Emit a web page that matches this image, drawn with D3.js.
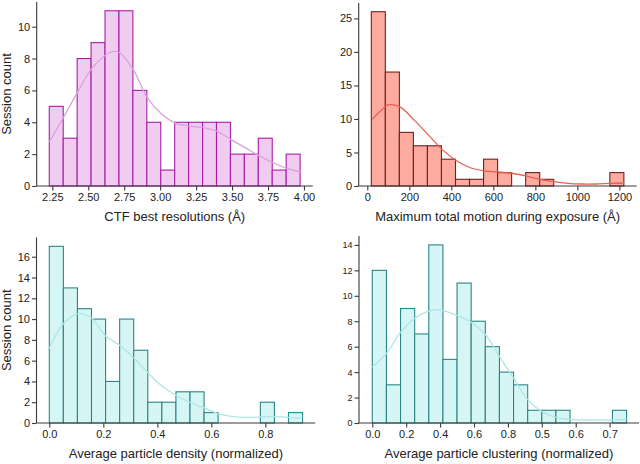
<!DOCTYPE html>
<html>
<head>
<meta charset="utf-8">
<script src="https://cdn.jsdelivr.net/npm/d3@7/dist/d3.min.js"></script>
<style>
  body { margin: 0; background: #fff; }
  svg { display: block; font-family: "Liberation Sans", Arial, Helvetica, sans-serif; }
</style>
</head>
<body>
<svg id="chart" width="640" height="464"></svg>
<script>
// ---------- DATA ----------
// Panel 1: CTF best resolutions
const ctfCounts = [5, 3, 8, 9, 11, 11, 6, 4, 1, 4, 4, 4, 4, 2, 2, 3, 1, 2];
const ctfBinStart = 2.229;
const ctfBinWidth = 0.0969;
const ctfKdeX = [2.229, 2.326, 2.424, 2.521, 2.618, 2.667, 2.716, 2.813, 2.910, 3.008, 3.105, 3.202, 3.300, 3.397, 3.494, 3.591, 3.689, 3.786, 3.883, 3.976];
const ctfKdeY = [2.76, 4.28, 5.86, 7.34, 8.21, 8.44, 8.38, 7.30, 5.56, 4.53, 3.95, 3.76, 3.66, 3.43, 2.91, 2.41, 1.89, 1.46, 1.10, 0.87];
const ctfXTicks = [2.25, 2.50, 2.75, 3.00, 3.25, 3.50, 3.75, 4.00];
const ctfXTickLabels = ["2.25", "2.50", "2.75", "3.00", "3.25", "3.50", "3.75", "4.00"];
const ctfYTicks = [0, 2, 4, 6, 8, 10];
const ctfXDomain = [2.1415, 4.0615];
const ctfYDomain = [0, 11.55];

// Panel 2: Maximum total motion
const motionCounts = [26, 17, 8, 6, 6, 4, 1, 1, 4, 2, 0, 2, 1, 0, 0, 0, 0, 2];
const motionBinStart = 19;
const motionBinWidth = 66.8;
const motionKdeX = [21, 88, 100, 155, 221, 288, 355, 421, 488, 555, 621, 688, 755, 821, 888, 955, 1021, 1088, 1155, 1223];
const motionKdeY = [9.9, 11.9, 12.1, 11.8, 9.9, 7.7, 5.5, 3.85, 2.76, 2.27, 2.1, 1.9, 1.5, 1.0, 0.64, 0.4, 0.3, 0.3, 0.4, 0.45];
const motionXTicks = [0, 200, 400, 600, 800, 1000, 1200];
const motionXTickLabels = ["0", "200", "400", "600", "800", "1000", "1200"];
const motionYTicks = [0, 5, 10, 15, 20, 25];
const motionXDomain = [-41, 1282];
const motionYDomain = [0, 27.3];

// Panel 3: Average particle density
const densityCounts = [17, 13, 11, 10, 4, 10, 7, 2, 2, 3, 3, 1, 0, 0, 0, 2, 0, 1];
const densityBinStart = 0;
const densityBinWidth = 0.0521;
const densityKdeX = [0.0, 0.0519, 0.1037, 0.1556, 0.2074, 0.2593, 0.3111, 0.3630, 0.4148, 0.4667, 0.5185, 0.5704, 0.6222, 0.6741, 0.7259, 0.7778, 0.8296, 0.8815, 0.937];
const densityKdeY = [7.2, 9.55, 10.5, 10.1, 8.4, 7.5, 6.3, 4.9, 3.6, 2.7, 2.0, 1.5, 0.93, 0.64, 0.54, 0.57, 0.64, 0.54, 0.45];
const densityXTicks = [0.0, 0.2, 0.4, 0.6, 0.8];
const densityXTickLabels = ["0.0", "0.2", "0.4", "0.6", "0.8"];
const densityYTicks = [0, 2, 4, 6, 8, 10, 12, 14, 16];
const densityXDomain = [-0.0474, 0.985];
const densityYDomain = [0, 17.85];

// Panel 4: Average particle clustering
const clusterCounts = [12, 3, 9, 7, 14, 5, 11, 8, 6, 4, 3, 1, 1, 1, 0, 0, 0, 1];
const clusterBinStart = 0;
const clusterBinWidth = 0.04167;
const clusterKdeX = [0.0, 0.0413, 0.0826, 0.1239, 0.1652, 0.1849, 0.2065, 0.2497, 0.2910, 0.3323, 0.3736, 0.4149, 0.4562, 0.4975, 0.5388, 0.5840, 0.6253, 0.6666, 0.7079, 0.75];
const clusterKdeY = [4.4, 5.45, 7.1, 8.2, 8.8, 8.9, 8.86, 8.47, 7.94, 7.0, 5.3, 3.6, 1.9, 0.95, 0.47, 0.29, 0.24, 0.24, 0.24, 0.29];
const clusterXTicks = [0.0, 0.1, 0.2, 0.3, 0.4, 0.5, 0.6, 0.7];
const clusterXTickLabels = ["0.0", "0.2", "0.4", "0.6", "0.8", "0.5", "0.6", "0.7"];
const clusterYTicks = [0, 2, 4, 6, 8, 10, 12, 14];
const clusterXDomain = [-0.0392, 0.7867];
const clusterYDomain = [0, 14.7];

// ---------- DRAW ----------
const svg = d3.select("#chart");
const axisColor = "#3a3a3a";
const textColor = "#222";

const panels = [
  { counts: ctfCounts, binStart: ctfBinStart, binWidth: ctfBinWidth, kdeX: ctfKdeX, kdeY: ctfKdeY,
    xTicks: ctfXTicks, xLabels: ctfXTickLabels, yTicks: ctfYTicks, xDomain: ctfXDomain, yDomain: ctfYDomain,
    box: [36.7, 312.8, 2, 186], fill: "#f0cdf0", stroke: "#a81ea8", line: "#d9a2da",
    xTitle: "CTF best resolutions (Å)", yTitle: "Session count", yFont: 11 },
  { counts: motionCounts, binStart: motionBinStart, binWidth: motionBinWidth, kdeX: motionKdeX, kdeY: motionKdeY,
    xTicks: motionXTicks, xLabels: motionXTickLabels, yTicks: motionYTicks, xDomain: motionXDomain, yDomain: motionYDomain,
    box: [358.7, 636.6, 3, 186], fill: "#fdab9f", stroke: "#6e2222", line: "#e8604f",
    xTitle: "Maximum total motion during exposure (Å)", yTitle: null, yFont: 11 },
  { counts: densityCounts, binStart: densityBinStart, binWidth: densityBinWidth, kdeX: densityKdeX, kdeY: densityKdeY,
    xTicks: densityXTicks, xLabels: densityXTickLabels, yTicks: densityYTicks, xDomain: densityXDomain, yDomain: densityYDomain,
    box: [36.5, 315.3, 237.5, 423], fill: "#d6f5f5", stroke: "#2b8686", line: "#aee6e6",
    xTitle: "Average particle density (normalized)", yTitle: "Session count", yFont: 11 },
  { counts: clusterCounts, binStart: clusterBinStart, binWidth: clusterBinWidth, kdeX: clusterKdeX, kdeY: clusterKdeY,
    xTicks: clusterXTicks, xLabels: clusterXTickLabels, yTicks: clusterYTicks, xDomain: clusterXDomain, yDomain: clusterYDomain,
    box: [359, 639, 236, 423], fill: "#d6f5f5", stroke: "#2b8686", line: "#aee6e6",
    xTitle: "Average particle clustering (normalized)", yTitle: null, yFont: 9 }
];

panels.forEach(p => {
  const [x0, x1, y0, y1] = p.box;
  const x = d3.scaleLinear().domain(p.xDomain).range([x0, x1]);
  const y = d3.scaleLinear().domain(p.yDomain).range([y1, y0]);
  const g = svg.append("g");

  const bins = p.counts.map((c, i) => ({ lo: p.binStart + i * p.binWidth, hi: p.binStart + (i + 1) * p.binWidth, c }));

  g.selectAll("rect.bar").data(bins.filter(b => b.c > 0)).join("rect")
    .attr("class", "bar")
    .attr("x", d => x(d.lo))
    .attr("width", d => x(d.hi) - x(d.lo))
    .attr("y", d => y(d.c))
    .attr("height", d => y(0) - y(d.c))
    .attr("fill", p.fill)
    .attr("stroke", p.stroke)
    .attr("stroke-width", 1.1);

  const kde = p.kdeX.map((v, i) => [v, p.kdeY[i]]);
  g.append("path")
    .datum(kde)
    .attr("fill", "none")
    .attr("stroke", p.line)
    .attr("stroke-width", 1.3)
    .attr("d", d3.line().x(d => x(d[0])).y(d => y(d[1])).curve(d3.curveCatmullRom));

  // x axis
  const xAxis = d3.axisBottom(x).tickValues(p.xTicks)
    .tickFormat((d, i) => p.xLabels[i]).tickSize(4.5).tickPadding(3).tickSizeOuter(0);
  const gx = g.append("g").attr("transform", `translate(0,${y1})`).call(xAxis);
  gx.select(".domain").attr("stroke", axisColor).attr("stroke-width", 1.1).attr("d", `M${x0},0H${x1}`);
  gx.selectAll(".tick line").attr("stroke", axisColor).attr("stroke-width", 1.1);
  gx.selectAll(".tick text").attr("fill", textColor).style("font-size", "11px")
    .style("font-family", "'Liberation Sans', Arial, sans-serif");

  // y axis
  const yAxis = d3.axisLeft(y).tickValues(p.yTicks).tickSize(4.5).tickPadding(2).tickSizeOuter(0);
  const gy = g.append("g").attr("transform", `translate(${x0},0)`).call(yAxis);
  gy.select(".domain").attr("stroke", axisColor).attr("stroke-width", 1.1).attr("d", `M0,${y0}V${y1}`);
  gy.selectAll(".tick line").attr("stroke", axisColor).attr("stroke-width", 1.1);
  gy.selectAll(".tick text").attr("fill", textColor).style("font-size", p.yFont + "px")
    .style("font-family", "'Liberation Sans', Arial, sans-serif");

  // titles
  g.append("text")
    .attr("x", (x0 + x1) / 2)
    .attr("y", y1 + 32)
    .attr("text-anchor", "middle")
    .attr("dominant-baseline", "middle")
    .attr("fill", textColor)
    .style("font-size", "13px")
    .text(p.xTitle);

  if (p.yTitle) {
    g.append("text")
      .attr("transform", `translate(8,${(y0 + y1) / 2}) rotate(-90)`)
      .attr("text-anchor", "middle")
      .attr("dominant-baseline", "middle")
      .attr("fill", textColor)
      .style("font-size", "13px")
      .text(p.yTitle);
  }
});
</script>
</body>
</html>
